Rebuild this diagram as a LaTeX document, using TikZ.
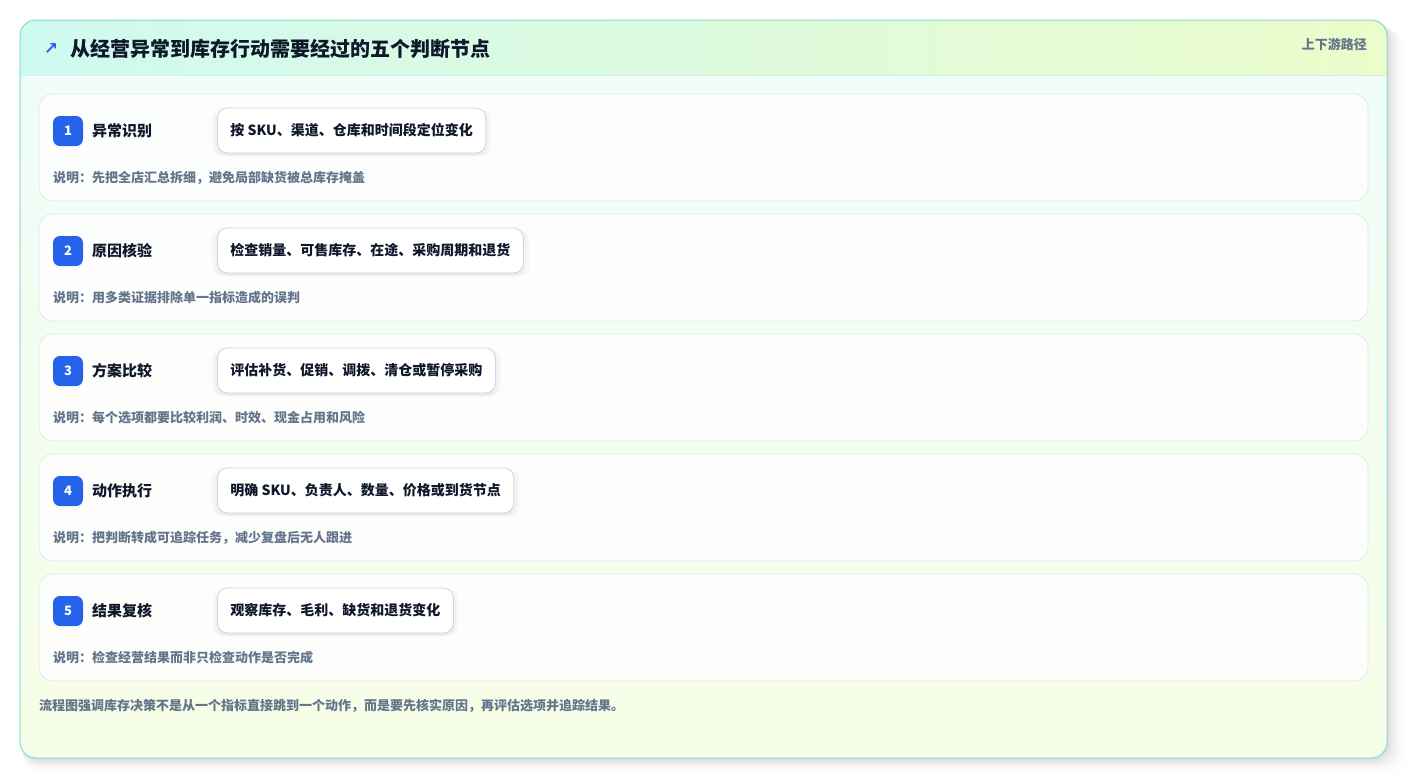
\documentclass[tikz,border=0pt]{standalone}
\usepackage{fontspec}
\setmainfont{Noto Sans CJK SC}
\newfontfamily\symfont{DejaVu Sans}
\usetikzlibrary{shadows}
\definecolor{ink}{HTML}{0F172A}
\definecolor{muted}{HTML}{64748B}
\definecolor{badgeblue}{HTML}{2563EB}
\definecolor{rowborder}{HTML}{DCE8F2}
\definecolor{pillborder}{HTML}{C6D6EE}
\definecolor{cardborder}{HTML}{86DCCB}
\definecolor{headL}{HTML}{CFFAF0}
\definecolor{headR}{HTML}{ECFCCB}
\definecolor{bodyT}{HTML}{EFFDF9}
\definecolor{bodyB}{HTML}{F7FEE7}
\tikzset{
  rowbox/.style={draw=rowborder, line width=0.8pt, fill=white, fill opacity=0.85, rounded corners=14pt},
  badge/.style={fill=badgeblue, rounded corners=7pt, minimum width=30pt, minimum height=30pt, inner sep=0pt, text=white, font=\fontsize{13}{15}\selectfont\bfseries},
  steplabel/.style={anchor=west, inner sep=0pt, text=ink, font=\fontsize{15}{17}\selectfont\bfseries},
  pill/.style={draw=pillborder, line width=0.8pt, fill=white, rounded corners=10pt, anchor=west, minimum height=45pt, inner xsep=13pt, text=ink, font=\fontsize{14}{16}\selectfont\bfseries,
    drop shadow={shadow xshift=0pt, shadow yshift=-2pt, opacity=0.025, fill=black, shadow scale=1.04},
    drop shadow={shadow xshift=0pt, shadow yshift=-3pt, opacity=0.025, fill=black, shadow scale=1.02},
    drop shadow={shadow xshift=0pt, shadow yshift=-2pt, opacity=0.03, fill=black}},
  note/.style={anchor=west, inner sep=0pt, text=muted, font=\fontsize{13}{15}\selectfont\bfseries},
}
\begin{document}
\begin{tikzpicture}[x=1pt,y=-1pt]
\useasboundingbox (0,0) rectangle (1408,780);
\fill[white] (0,0) rectangle (1408,780);
% card shadow
\foreach \i/\o in {1/0.025,2/0.022,3/0.02,4/0.017,5/0.014,6/0.011,7/0.009,8/0.007,9/0.005,10/0.004,11/0.003,12/0.002} {
  \fill[black, opacity=\o, rounded corners=18pt] (20+\i*0.3,20+\i*0.8) rectangle (1387+\i*1.6,758+\i*1.4);
}
% card body
\begin{scope}
  \clip[rounded corners=16pt] (20,20) rectangle (1387,758);
  \shade[top color=bodyT, bottom color=bodyB] (20,20) rectangle (1387,758);
  \shade[left color=headL, right color=headR] (20,20) rectangle (1387,75);
  \draw[cardborder!40, line width=0.8pt] (20,75) -- (1387,75);
\end{scope}
\draw[cardborder, line width=1pt, rounded corners=16pt] (20,20) rectangle (1387,758);
% header
\node[anchor=center, inner sep=0pt, text=badgeblue, font=\symfont\fontsize{17}{17}\selectfont\bfseries] (icon) at (51,49) {↗};
\node[anchor=west, inner sep=0pt, text=ink, font=\fontsize{20}{23}\selectfont\bfseries] (title) at (70,49) {从经营异常到库存行动需要经过的五个判断节点};
\node[anchor=east, inner sep=0pt, text=muted, font=\fontsize{13}{15}\selectfont\bfseries] (tag) at (1367,44) {上下游路径};
% rows
\foreach \n/\y/\lab/\act/\desc in {
  1/94/异常识别/{按 SKU、渠道、仓库和时间段定位变化}/{说明：先把全店汇总拆细，避免局部缺货被总库存掩盖},
  2/214/原因核验/{检查销量、可售库存、在途、采购周期和退货}/{说明：用多类证据排除单一指标造成的误判},
  3/334/方案比较/{评估补货、促销、调拨、清仓或暂停采购}/{说明：每个选项都要比较利润、时效、现金占用和风险},
  4/454/动作执行/{明确 SKU、负责人、数量、价格或到货节点}/{说明：把判断转成可追踪任务，减少复盘后无人跟进},
  5/574/结果复核/{观察库存、毛利、缺货和退货变化}/{说明：检查经营结果而非只检查动作是否完成}} {
  \draw[rowbox] (39,\y) rectangle (1368,\y+107);
  \node[badge] (b\n) at (68,\y+37) {\n};
  \node[steplabel] (l\n) at (92,\y+37) {\lab};
  \node[pill] (p\n) at (217,\y+36.5) {\act};
  \node[note] (d\n) at (53,\y+84) {\desc};
}
% footer
\node[anchor=west, inner sep=0pt, text=muted, font=\fontsize{13}{15}\selectfont\bfseries] (foot) at (39,706) {流程图强调库存决策不是从一个指标直接跳到一个动作，而是要先核实原因，再评估选项并追踪结果。};
\end{tikzpicture}
\end{document}
